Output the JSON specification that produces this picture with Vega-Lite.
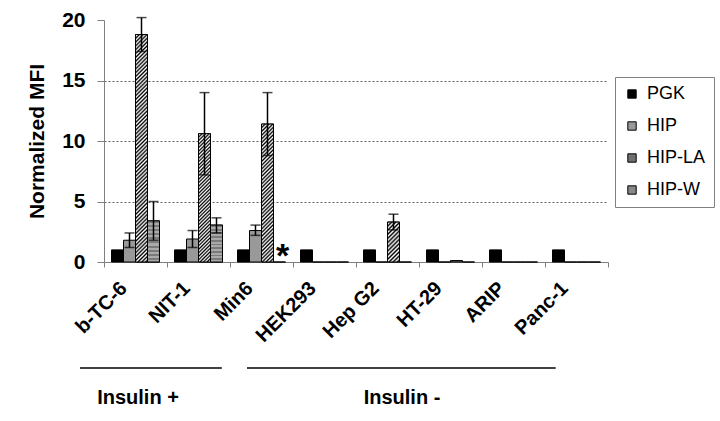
{
  "$schema": "https://vega.github.io/schema/vega-lite/v6.json",
  "width": 504,
  "height": 242,
  "autosize": {"type": "none"},
  "padding": {"left": 104, "top": 20, "right": 112, "bottom": 159},
  "background": "white",
  "config": {
    "font": "Liberation Sans",
    "view": {"stroke": null},
    "axis": {"labelFont": "Liberation Sans", "titleFont": "Liberation Sans"},
    "text": {"font": "Liberation Sans"}
  },
  "datasets": {
    "bars": [
      {"cell": "b-TC-6", "series": "PGK", "value": 1},
      {"cell": "b-TC-6", "series": "HIP", "value": 1.8, "lo": 1.2, "hi": 2.4},
      {"cell": "b-TC-6", "series": "HIP-LA", "value": 18.8, "lo": 17.4, "hi": 20.2},
      {"cell": "b-TC-6", "series": "HIP-W", "value": 3.4, "lo": 1.8, "hi": 5.0},
      {"cell": "NIT-1", "series": "PGK", "value": 1},
      {"cell": "NIT-1", "series": "HIP", "value": 1.9, "lo": 1.2, "hi": 2.6},
      {"cell": "NIT-1", "series": "HIP-LA", "value": 10.6, "lo": 7.2, "hi": 14.0},
      {"cell": "NIT-1", "series": "HIP-W", "value": 3.05, "lo": 2.4, "hi": 3.65},
      {"cell": "Min6", "series": "PGK", "value": 1},
      {"cell": "Min6", "series": "HIP", "value": 2.6, "lo": 2.2, "hi": 3.05},
      {"cell": "Min6", "series": "HIP-LA", "value": 11.4, "lo": 8.8, "hi": 14.0},
      {"cell": "Min6", "series": "HIP-W", "value": 0},
      {"cell": "HEK293", "series": "PGK", "value": 1},
      {"cell": "HEK293", "series": "HIP", "value": 0},
      {"cell": "HEK293", "series": "HIP-LA", "value": 0},
      {"cell": "HEK293", "series": "HIP-W", "value": 0},
      {"cell": "Hep G2", "series": "PGK", "value": 1},
      {"cell": "Hep G2", "series": "HIP", "value": 0},
      {"cell": "Hep G2", "series": "HIP-LA", "value": 3.3, "lo": 2.65, "hi": 3.95},
      {"cell": "Hep G2", "series": "HIP-W", "value": 0},
      {"cell": "HT-29", "series": "PGK", "value": 1},
      {"cell": "HT-29", "series": "HIP", "value": 0},
      {"cell": "HT-29", "series": "HIP-LA", "value": 0.12},
      {"cell": "HT-29", "series": "HIP-W", "value": 0},
      {"cell": "ARIP", "series": "PGK", "value": 1},
      {"cell": "ARIP", "series": "HIP", "value": 0},
      {"cell": "ARIP", "series": "HIP-LA", "value": 0},
      {"cell": "ARIP", "series": "HIP-W", "value": 0},
      {"cell": "Panc-1", "series": "PGK", "value": 1},
      {"cell": "Panc-1", "series": "HIP", "value": 0},
      {"cell": "Panc-1", "series": "HIP-LA", "value": 0},
      {"cell": "Panc-1", "series": "HIP-W", "value": 0}
    ],
    "notes": [
      {"cell": "Min6", "series": "HIP-W", "value": 0.4, "label": "*"}
    ],
    "groups": [
      {"group": "Insulin +", "from": -0.38, "to": 1.87, "mid": 0.54},
      {"group": "Insulin -", "from": 2.27, "to": 7.17, "mid": 4.73}
    ]
  },
  "resolve": {"scale": {"x": "independent"}},
  "layer": [
    {
      "data": {"name": "bars"},
      "encoding": {
        "x": {
          "field": "cell", "type": "nominal",
          "scale": {"domain": ["b-TC-6", "NIT-1", "Min6", "HEK293", "Hep G2", "HT-29", "ARIP", "Panc-1"], "paddingInner": 0, "paddingOuter": 0},
          "axis": {
            "title": null, "labelAngle": -45, "labelAlign": "right", "labelBaseline": "middle",
            "labelFontSize": 20, "labelFontWeight": "bold", "labelColor": "black", "labelPadding": 18, "labelOffset": -12,
            "tickBand": "extent", "tickSize": 5, "tickColor": "#808080", "domainColor": "#808080", "labelLimit": 0
          }
        },
        "xOffset": {
          "field": "series", "type": "nominal",
          "scale": {"domain": ["PGK", "HIP", "HIP-LA", "HIP-W"], "paddingInner": 0, "paddingOuter": 0.625}
        },
        "y": {
          "field": "value", "type": "quantitative",
          "scale": {"domain": [0, 20], "nice": false},
          "axis": {
            "title": "Normalized MFI", "titleFontSize": 21, "titleFontWeight": "bold", "titleColor": "black", "titlePadding": 14,
            "values": [0, 5, 10, 15, 20], "labelFontSize": 21, "labelFontWeight": "bold", "labelColor": "black", "labelPadding": 12,
            "tickSize": 7, "tickColor": "#808080", "domainColor": "#808080",
            "grid": true, "gridDash": [2, 2], "gridColor": "#606060",
            "gridOpacity": {"condition": {"test": "datum.value == 20 || datum.value == 0", "value": 0}, "value": 1}
          }
        }
      },
      "layer": [
        {
          "mark": {"type": "bar", "stroke": "black", "strokeWidth": 1},
          "encoding": {
            "fill": {
              "field": "series", "type": "nominal",
              "scale": {"domain": ["PGK", "HIP", "HIP-LA", "HIP-W"], "range": ["#000000", "#999999", "#707070", "#888888"]},
              "legend": {
                "title": null, "orient": "none", "legendX": 511, "legendY": 57,
                "strokeColor": "#808080", "fillColor": "white", "padding": 8,
                "symbolType": "square", "symbolSize": 70, "symbolStrokeColor": "black", "symbolStrokeWidth": 1,
                "labelFontSize": 18, "labelFont": "Liberation Sans", "labelColor": "black", "rowPadding": 14, "labelOffset": 6
              }
            }
          }
        },
        {
          "transform": [{"filter": "datum.series == 'HIP-LA' && datum.cell == 'b-TC-6'"}],
          "mark": {
            "type": "bar", "stroke": "black", "strokeWidth": 1,
            "fill": {"gradient": "linear", "x1": 0, "y1": 0, "x2": 0.0554, "y2": 1.0498, "stops": [
              {"offset":0,"color":"#000"},{"offset":0.008,"color":"#fff"},{"offset":0.016,"color":"#000"},{"offset":0.024,"color":"#fff"},{"offset":0.032,"color":"#000"},{"offset":0.04,"color":"#fff"},{"offset":0.048,"color":"#000"},{"offset":0.056,"color":"#fff"},{"offset":0.064,"color":"#000"},{"offset":0.072,"color":"#fff"},
              {"offset":0.08,"color":"#000"},{"offset":0.088,"color":"#fff"},{"offset":0.096,"color":"#000"},{"offset":0.104,"color":"#fff"},{"offset":0.112,"color":"#000"},{"offset":0.12,"color":"#fff"},{"offset":0.128,"color":"#000"},{"offset":0.136,"color":"#fff"},{"offset":0.144,"color":"#000"},{"offset":0.152,"color":"#fff"},
              {"offset":0.16,"color":"#000"},{"offset":0.168,"color":"#fff"},{"offset":0.176,"color":"#000"},{"offset":0.184,"color":"#fff"},{"offset":0.192,"color":"#000"},{"offset":0.2,"color":"#fff"},{"offset":0.208,"color":"#000"},{"offset":0.216,"color":"#fff"},{"offset":0.224,"color":"#000"},{"offset":0.232,"color":"#fff"},
              {"offset":0.24,"color":"#000"},{"offset":0.248,"color":"#fff"},{"offset":0.256,"color":"#000"},{"offset":0.264,"color":"#fff"},{"offset":0.272,"color":"#000"},{"offset":0.28,"color":"#fff"},{"offset":0.288,"color":"#000"},{"offset":0.296,"color":"#fff"},{"offset":0.304,"color":"#000"},{"offset":0.312,"color":"#fff"},
              {"offset":0.32,"color":"#000"},{"offset":0.328,"color":"#fff"},{"offset":0.336,"color":"#000"},{"offset":0.344,"color":"#fff"},{"offset":0.352,"color":"#000"},{"offset":0.36,"color":"#fff"},{"offset":0.368,"color":"#000"},{"offset":0.376,"color":"#fff"},{"offset":0.384,"color":"#000"},{"offset":0.392,"color":"#fff"},
              {"offset":0.4,"color":"#000"},{"offset":0.408,"color":"#fff"},{"offset":0.416,"color":"#000"},{"offset":0.424,"color":"#fff"},{"offset":0.432,"color":"#000"},{"offset":0.44,"color":"#fff"},{"offset":0.448,"color":"#000"},{"offset":0.456,"color":"#fff"},{"offset":0.464,"color":"#000"},{"offset":0.472,"color":"#fff"},
              {"offset":0.48,"color":"#000"},{"offset":0.488,"color":"#fff"},{"offset":0.496,"color":"#000"},{"offset":0.504,"color":"#fff"},{"offset":0.512,"color":"#000"},{"offset":0.52,"color":"#fff"},{"offset":0.528,"color":"#000"},{"offset":0.536,"color":"#fff"},{"offset":0.544,"color":"#000"},{"offset":0.552,"color":"#fff"},
              {"offset":0.56,"color":"#000"},{"offset":0.568,"color":"#fff"},{"offset":0.576,"color":"#000"},{"offset":0.584,"color":"#fff"},{"offset":0.592,"color":"#000"},{"offset":0.6,"color":"#fff"},{"offset":0.608,"color":"#000"},{"offset":0.616,"color":"#fff"},{"offset":0.624,"color":"#000"},{"offset":0.632,"color":"#fff"},
              {"offset":0.64,"color":"#000"},{"offset":0.648,"color":"#fff"},{"offset":0.656,"color":"#000"},{"offset":0.664,"color":"#fff"},{"offset":0.672,"color":"#000"},{"offset":0.68,"color":"#fff"},{"offset":0.688,"color":"#000"},{"offset":0.696,"color":"#fff"},{"offset":0.704,"color":"#000"},{"offset":0.712,"color":"#fff"},
              {"offset":0.72,"color":"#000"},{"offset":0.728,"color":"#fff"},{"offset":0.736,"color":"#000"},{"offset":0.744,"color":"#fff"},{"offset":0.752,"color":"#000"},{"offset":0.76,"color":"#fff"},{"offset":0.768,"color":"#000"},{"offset":0.776,"color":"#fff"},{"offset":0.784,"color":"#000"},{"offset":0.792,"color":"#fff"},
              {"offset":0.8,"color":"#000"},{"offset":0.808,"color":"#fff"},{"offset":0.816,"color":"#000"},{"offset":0.824,"color":"#fff"},{"offset":0.832,"color":"#000"},{"offset":0.84,"color":"#fff"},{"offset":0.848,"color":"#000"},{"offset":0.856,"color":"#fff"},{"offset":0.864,"color":"#000"},{"offset":0.872,"color":"#fff"},
              {"offset":0.88,"color":"#000"},{"offset":0.888,"color":"#fff"},{"offset":0.896,"color":"#000"},{"offset":0.904,"color":"#fff"},{"offset":0.912,"color":"#000"},{"offset":0.92,"color":"#fff"},{"offset":0.928,"color":"#000"},{"offset":0.936,"color":"#fff"},{"offset":0.944,"color":"#000"},{"offset":0.952,"color":"#fff"},
              {"offset":0.96,"color":"#000"},{"offset":0.968,"color":"#fff"},{"offset":0.976,"color":"#000"},{"offset":0.984,"color":"#fff"},{"offset":0.992,"color":"#000"},{"offset":1,"color":"#fff"}
            ]}
          },
          "encoding": {}
        },
        {
          "transform": [{"filter": "datum.series == 'HIP-LA' && datum.cell == 'NIT-1'"}],
          "mark": {
            "type": "bar", "stroke": "black", "strokeWidth": 1,
            "fill": {"gradient": "linear", "x1": 0, "y1": 0, "x2": 0.1014, "y2": 1.084, "stops": [
              {"offset":0,"color":"#000"},{"offset":0.0125,"color":"#fff"},{"offset":0.025,"color":"#000"},{"offset":0.0375,"color":"#fff"},{"offset":0.05,"color":"#000"},{"offset":0.0625,"color":"#fff"},{"offset":0.075,"color":"#000"},{"offset":0.0875,"color":"#fff"},
              {"offset":0.1,"color":"#000"},{"offset":0.1125,"color":"#fff"},{"offset":0.125,"color":"#000"},{"offset":0.1375,"color":"#fff"},{"offset":0.15,"color":"#000"},{"offset":0.1625,"color":"#fff"},{"offset":0.175,"color":"#000"},{"offset":0.1875,"color":"#fff"},
              {"offset":0.2,"color":"#000"},{"offset":0.2125,"color":"#fff"},{"offset":0.225,"color":"#000"},{"offset":0.2375,"color":"#fff"},{"offset":0.25,"color":"#000"},{"offset":0.2625,"color":"#fff"},{"offset":0.275,"color":"#000"},{"offset":0.2875,"color":"#fff"},
              {"offset":0.3,"color":"#000"},{"offset":0.3125,"color":"#fff"},{"offset":0.325,"color":"#000"},{"offset":0.3375,"color":"#fff"},{"offset":0.35,"color":"#000"},{"offset":0.3625,"color":"#fff"},{"offset":0.375,"color":"#000"},{"offset":0.3875,"color":"#fff"},
              {"offset":0.4,"color":"#000"},{"offset":0.4125,"color":"#fff"},{"offset":0.425,"color":"#000"},{"offset":0.4375,"color":"#fff"},{"offset":0.45,"color":"#000"},{"offset":0.4625,"color":"#fff"},{"offset":0.475,"color":"#000"},{"offset":0.4875,"color":"#fff"},
              {"offset":0.5,"color":"#000"},{"offset":0.5125,"color":"#fff"},{"offset":0.525,"color":"#000"},{"offset":0.5375,"color":"#fff"},{"offset":0.55,"color":"#000"},{"offset":0.5625,"color":"#fff"},{"offset":0.575,"color":"#000"},{"offset":0.5875,"color":"#fff"},
              {"offset":0.6,"color":"#000"},{"offset":0.6125,"color":"#fff"},{"offset":0.625,"color":"#000"},{"offset":0.6375,"color":"#fff"},{"offset":0.65,"color":"#000"},{"offset":0.6625,"color":"#fff"},{"offset":0.675,"color":"#000"},{"offset":0.6875,"color":"#fff"},
              {"offset":0.7,"color":"#000"},{"offset":0.7125,"color":"#fff"},{"offset":0.725,"color":"#000"},{"offset":0.7375,"color":"#fff"},{"offset":0.75,"color":"#000"},{"offset":0.7625,"color":"#fff"},{"offset":0.775,"color":"#000"},{"offset":0.7875,"color":"#fff"},
              {"offset":0.8,"color":"#000"},{"offset":0.8125,"color":"#fff"},{"offset":0.825,"color":"#000"},{"offset":0.8375,"color":"#fff"},{"offset":0.85,"color":"#000"},{"offset":0.8625,"color":"#fff"},{"offset":0.875,"color":"#000"},{"offset":0.8875,"color":"#fff"},
              {"offset":0.9,"color":"#000"},{"offset":0.9125,"color":"#fff"},{"offset":0.925,"color":"#000"},{"offset":0.9375,"color":"#fff"},{"offset":0.95,"color":"#000"},{"offset":0.9625,"color":"#fff"},{"offset":0.975,"color":"#000"},{"offset":0.9875,"color":"#fff"},
              {"offset":1,"color":"#000"}
            ]}
          },
          "encoding": {}
        },
        {
          "transform": [{"filter": "datum.series == 'HIP-LA' && datum.cell == 'Min6'"}],
          "mark": {
            "type": "bar", "stroke": "black", "strokeWidth": 1,
            "fill": {"gradient": "linear", "x1": 0, "y1": 0, "x2": 0.0939, "y2": 1.079, "stops": [
              {"offset":0,"color":"#000"},{"offset":0.0125,"color":"#fff"},{"offset":0.025,"color":"#000"},{"offset":0.0375,"color":"#fff"},{"offset":0.05,"color":"#000"},{"offset":0.0625,"color":"#fff"},{"offset":0.075,"color":"#000"},{"offset":0.0875,"color":"#fff"},
              {"offset":0.1,"color":"#000"},{"offset":0.1125,"color":"#fff"},{"offset":0.125,"color":"#000"},{"offset":0.1375,"color":"#fff"},{"offset":0.15,"color":"#000"},{"offset":0.1625,"color":"#fff"},{"offset":0.175,"color":"#000"},{"offset":0.1875,"color":"#fff"},
              {"offset":0.2,"color":"#000"},{"offset":0.2125,"color":"#fff"},{"offset":0.225,"color":"#000"},{"offset":0.2375,"color":"#fff"},{"offset":0.25,"color":"#000"},{"offset":0.2625,"color":"#fff"},{"offset":0.275,"color":"#000"},{"offset":0.2875,"color":"#fff"},
              {"offset":0.3,"color":"#000"},{"offset":0.3125,"color":"#fff"},{"offset":0.325,"color":"#000"},{"offset":0.3375,"color":"#fff"},{"offset":0.35,"color":"#000"},{"offset":0.3625,"color":"#fff"},{"offset":0.375,"color":"#000"},{"offset":0.3875,"color":"#fff"},
              {"offset":0.4,"color":"#000"},{"offset":0.4125,"color":"#fff"},{"offset":0.425,"color":"#000"},{"offset":0.4375,"color":"#fff"},{"offset":0.45,"color":"#000"},{"offset":0.4625,"color":"#fff"},{"offset":0.475,"color":"#000"},{"offset":0.4875,"color":"#fff"},
              {"offset":0.5,"color":"#000"},{"offset":0.5125,"color":"#fff"},{"offset":0.525,"color":"#000"},{"offset":0.5375,"color":"#fff"},{"offset":0.55,"color":"#000"},{"offset":0.5625,"color":"#fff"},{"offset":0.575,"color":"#000"},{"offset":0.5875,"color":"#fff"},
              {"offset":0.6,"color":"#000"},{"offset":0.6125,"color":"#fff"},{"offset":0.625,"color":"#000"},{"offset":0.6375,"color":"#fff"},{"offset":0.65,"color":"#000"},{"offset":0.6625,"color":"#fff"},{"offset":0.675,"color":"#000"},{"offset":0.6875,"color":"#fff"},
              {"offset":0.7,"color":"#000"},{"offset":0.7125,"color":"#fff"},{"offset":0.725,"color":"#000"},{"offset":0.7375,"color":"#fff"},{"offset":0.75,"color":"#000"},{"offset":0.7625,"color":"#fff"},{"offset":0.775,"color":"#000"},{"offset":0.7875,"color":"#fff"},
              {"offset":0.8,"color":"#000"},{"offset":0.8125,"color":"#fff"},{"offset":0.825,"color":"#000"},{"offset":0.8375,"color":"#fff"},{"offset":0.85,"color":"#000"},{"offset":0.8625,"color":"#fff"},{"offset":0.875,"color":"#000"},{"offset":0.8875,"color":"#fff"},
              {"offset":0.9,"color":"#000"},{"offset":0.9125,"color":"#fff"},{"offset":0.925,"color":"#000"},{"offset":0.9375,"color":"#fff"},{"offset":0.95,"color":"#000"},{"offset":0.9625,"color":"#fff"},{"offset":0.975,"color":"#000"},{"offset":0.9875,"color":"#fff"},
              {"offset":1,"color":"#000"}
            ]}
          },
          "encoding": {}
        },
        {
          "transform": [{"filter": "datum.series == 'HIP-LA' && datum.cell == 'Hep G2'"}],
          "mark": {
            "type": "bar", "stroke": "black", "strokeWidth": 1,
            "fill": {"gradient": "linear", "x1": 0, "y1": 0, "x2": 0.358, "y2": 1.192, "stops": [
              {"offset":0,"color":"#000"},{"offset":0.04,"color":"#fff"},{"offset":0.08,"color":"#000"},{"offset":0.12,"color":"#fff"},{"offset":0.16,"color":"#000"},{"offset":0.2,"color":"#fff"},{"offset":0.24,"color":"#000"},{"offset":0.28,"color":"#fff"},{"offset":0.32,"color":"#000"},{"offset":0.36,"color":"#fff"},
              {"offset":0.4,"color":"#000"},{"offset":0.44,"color":"#fff"},{"offset":0.48,"color":"#000"},{"offset":0.52,"color":"#fff"},{"offset":0.56,"color":"#000"},{"offset":0.6,"color":"#fff"},{"offset":0.64,"color":"#000"},{"offset":0.68,"color":"#fff"},{"offset":0.72,"color":"#000"},{"offset":0.76,"color":"#fff"},
              {"offset":0.8,"color":"#000"},{"offset":0.84,"color":"#fff"},{"offset":0.88,"color":"#000"},{"offset":0.92,"color":"#fff"},{"offset":0.96,"color":"#000"},{"offset":1,"color":"#fff"}
            ]}
          },
          "encoding": {}
        },
        {
          "transform": [{"filter": "datum.series == 'HIP-W' && datum.value > 0"}],
          "mark": {
            "type": "bar", "stroke": "black", "strokeWidth": 1,
            "fill": {"gradient": "linear", "x1": 0, "y1": 0, "x2": 0, "y2": 1, "stops": [
              {"offset": 0, "color": "#7a7a7a"}, {"offset": 0.05, "color": "#7a7a7a"}, {"offset": 0.05, "color": "#aaaaaa"}, {"offset": 0.1, "color": "#aaaaaa"},
              {"offset": 0.1, "color": "#7a7a7a"}, {"offset": 0.15, "color": "#7a7a7a"}, {"offset": 0.15, "color": "#aaaaaa"}, {"offset": 0.2, "color": "#aaaaaa"},
              {"offset": 0.2, "color": "#7a7a7a"}, {"offset": 0.25, "color": "#7a7a7a"}, {"offset": 0.25, "color": "#aaaaaa"}, {"offset": 0.3, "color": "#aaaaaa"},
              {"offset": 0.3, "color": "#7a7a7a"}, {"offset": 0.35, "color": "#7a7a7a"}, {"offset": 0.35, "color": "#aaaaaa"}, {"offset": 0.4, "color": "#aaaaaa"},
              {"offset": 0.4, "color": "#7a7a7a"}, {"offset": 0.45, "color": "#7a7a7a"}, {"offset": 0.45, "color": "#aaaaaa"}, {"offset": 0.5, "color": "#aaaaaa"},
              {"offset": 0.5, "color": "#7a7a7a"}, {"offset": 0.55, "color": "#7a7a7a"}, {"offset": 0.55, "color": "#aaaaaa"}, {"offset": 0.6, "color": "#aaaaaa"},
              {"offset": 0.6, "color": "#7a7a7a"}, {"offset": 0.65, "color": "#7a7a7a"}, {"offset": 0.65, "color": "#aaaaaa"}, {"offset": 0.7, "color": "#aaaaaa"},
              {"offset": 0.7, "color": "#7a7a7a"}, {"offset": 0.75, "color": "#7a7a7a"}, {"offset": 0.75, "color": "#aaaaaa"}, {"offset": 0.8, "color": "#aaaaaa"},
              {"offset": 0.8, "color": "#7a7a7a"}, {"offset": 0.85, "color": "#7a7a7a"}, {"offset": 0.85, "color": "#aaaaaa"}, {"offset": 0.9, "color": "#aaaaaa"},
              {"offset": 0.9, "color": "#7a7a7a"}, {"offset": 0.95, "color": "#7a7a7a"}, {"offset": 0.95, "color": "#aaaaaa"}, {"offset": 1, "color": "#aaaaaa"}
            ]}
          },
          "encoding": {}
        },
        {
          "transform": [{"filter": "isValid(datum.hi)"}],
          "mark": {"type": "rule", "color": "black", "strokeWidth": 1.5},
          "encoding": {"y": {"field": "lo", "type": "quantitative"}, "y2": {"field": "hi"}}
        },
        {
          "transform": [{"filter": "isValid(datum.hi)"}],
          "mark": {"type": "tick", "color": "black", "size": 10, "thickness": 1.5, "orient": "horizontal"},
          "encoding": {"y": {"field": "hi", "type": "quantitative"}}
        },
        {
          "transform": [{"filter": "isValid(datum.lo)"}],
          "mark": {"type": "tick", "color": "black", "size": 10, "thickness": 1.5, "orient": "horizontal"},
          "encoding": {"y": {"field": "lo", "type": "quantitative"}}
        }
      ]
    },
    {
      "data": {"name": "notes"},
      "mark": {"type": "text", "fontSize": 34, "fontWeight": "bold", "baseline": "middle", "dx": 3},
      "encoding": {
        "x": {"field": "cell", "type": "nominal", "scale": {"domain": ["b-TC-6", "NIT-1", "Min6", "HEK293", "Hep G2", "HT-29", "ARIP", "Panc-1"], "paddingInner": 0, "paddingOuter": 0}, "axis": null},
        "xOffset": {"field": "series", "type": "nominal", "scale": {"domain": ["PGK", "HIP", "HIP-LA", "HIP-W"], "paddingInner": 0, "paddingOuter": 0.625}},
        "y": {"field": "value", "type": "quantitative"},
        "text": {"field": "label"}
      }
    },
    {
      "data": {"name": "groups"},
      "mark": {"type": "rule", "color": "black", "strokeWidth": 1.5},
      "encoding": {
        "x": {"field": "from", "type": "quantitative", "scale": {"domain": [0, 8], "nice": false, "zero": false}, "axis": null},
        "x2": {"field": "to"},
        "y": {"datum": -8.76}
      }
    },
    {
      "data": {"name": "groups"},
      "mark": {"type": "text", "fontSize": 20, "fontWeight": "bold", "baseline": "middle", "align": "center"},
      "encoding": {
        "x": {"field": "mid", "type": "quantitative", "scale": {"domain": [0, 8], "nice": false, "zero": false}, "axis": null},
        "y": {"datum": -11.24},
        "text": {"field": "group"}
      }
    }
  ]
}
